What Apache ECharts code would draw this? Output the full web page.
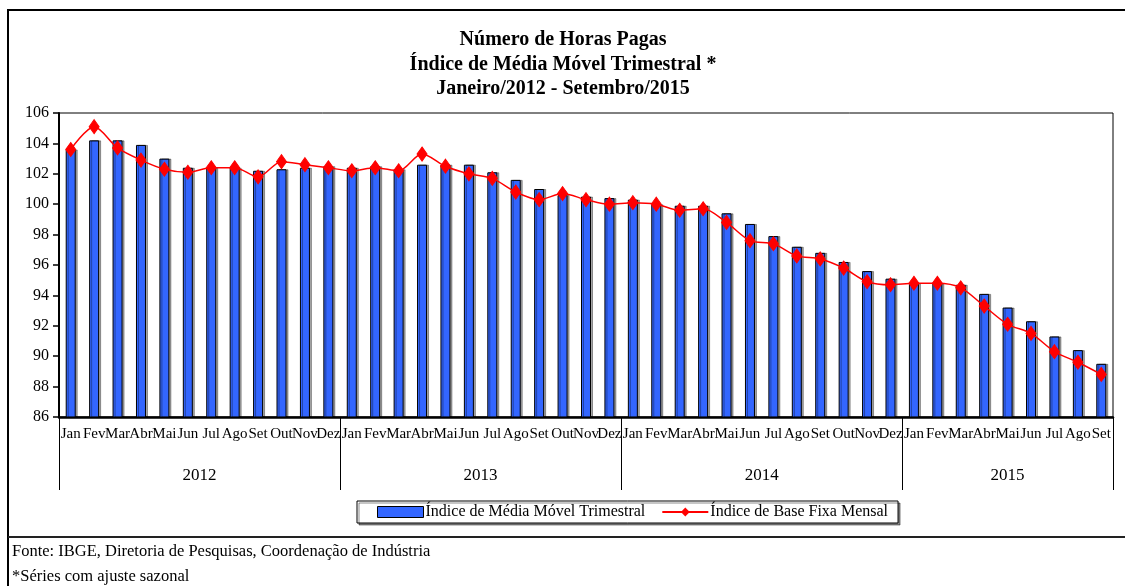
<!DOCTYPE html>
<html>
<head>
<meta charset="utf-8">
<script src="https://cdn.jsdelivr.net/npm/echarts@6/dist/echarts.min.js"></script>
<style>
    html, body { margin: 0; padding: 0; background: #fff; }
    #chart { width: 1125px; height: 586px; }
</style>
</head>
<body>
<div id="chart"></div>
<script>
// meses jan/2012 - set/2015
const monthNames = ['Jan', 'Fev', 'Mar', 'Abr', 'Mai', 'Jun', 'Jul', 'Ago', 'Set', 'Out', 'Nov', 'Dez'];
const years = ['2012', '2013', '2014', '2015'];
const monthsPerYear = [12, 12, 12, 9];

// Índice de Média Móvel Trimestral (barras)
const mediaMovel = [
    103.6, 104.2, 104.2, 103.9, 103.0, 102.4, 102.4, 102.4, 102.2, 102.3, 102.4, 102.5,
    102.4, 102.5, 102.3, 102.6, 102.6, 102.6, 102.1, 101.6, 101.0, 100.6, 100.5, 100.4,
    100.3, 100.0, 99.9, 99.9, 99.4, 98.7, 97.9, 97.2, 96.8, 96.2, 95.6, 95.1,
    94.8, 94.8, 94.7, 94.1, 93.2, 92.3, 91.3, 90.4, 89.5
];
// Índice de Base Fixa Mensal (linha)
const baseFixa = [
    103.6, 105.1, 103.7, 102.9, 102.3, 102.1, 102.4, 102.4, 101.8, 102.8, 102.6, 102.4,
    102.2, 102.4, 102.2, 103.3, 102.5, 102.0, 101.7, 100.8, 100.3, 100.7, 100.3, 100.0,
    100.1, 100.0, 99.6, 99.7, 98.8, 97.6, 97.4, 96.6, 96.4, 95.8, 94.9, 94.7,
    94.8, 94.8, 94.5, 93.3, 92.1, 91.5, 90.3, 89.6, 88.8
];

const yMin = 86, yMax = 106, yStep = 2;

const titleText = 'Número de Horas Pagas\nÍndice de Média Móvel Trimestral *\nJaneiro/2012 - Setembro/2015';
const fonte = 'Fonte: IBGE, Diretoria de Pesquisas, Coordenação de Indústria';
const nota = '*Séries com ajuste sazonal';

const FONT = '"Liberation Serif", "DejaVu Serif", serif';

// eixo dos meses
const months = [];
monthsPerYear.forEach(n => {
    for (let m = 0; m < n; m++) months.push(monthNames[m]);
});

// eixo dos anos: pontos a cada meio mês, rótulo no centro de cada ano
const halfSlots = new Array(months.length * 2 + 1).fill('');
const yearBounds = new Set([0]);
let start = 0;
monthsPerYear.forEach((n, i) => {
    halfSlots[start * 2 + n] = years[i];
    start += n;
    yearBounds.add(start * 2);
});

const chart = echarts.init(document.getElementById('chart'));

const option = {
    animation: false,
    backgroundColor: '#fff',
    textStyle: { fontFamily: FONT, color: '#000' },
    grid: {
        left: 59, right: 12, top: 113, bottom: 169,
        show: true, borderColor: '#000', borderWidth: 1,
        containLabel: false
    },
    legend: {
        left: 357, top: 501,
        padding: [3, 10, 3, 20],
        itemGap: 16,
        itemWidth: 46,
        itemHeight: 11,
        borderColor: '#000',
        borderWidth: 1,
        backgroundColor: '#fff',
        shadowColor: 'rgba(0,0,0,0.45)',
        shadowOffsetX: 2,
        shadowOffsetY: 2,
        textStyle: { fontFamily: FONT, fontSize: 16, color: '#000', padding: [0, 0, 0, -3] },
        data: [
            {
                name: 'Índice de Média Móvel Trimestral',
                icon: 'rect',
                itemStyle: { color: '#3366FF', borderColor: '#000', borderWidth: 1, shadowColor: 'transparent' }
            },
            { name: 'Índice de Base Fixa Mensal' }
        ]
    },
    xAxis: [
        {
            type: 'category',
            data: months,
            boundaryGap: true,
            axisLine: { onZero: false, lineStyle: { color: '#000', width: 2.5 } },
            axisTick: { interval: 0, length: 38, lineStyle: { color: '#000', width: 1 } },
            axisLabel: { interval: 0, margin: 10, fontFamily: FONT, fontSize: 15, color: '#000' },
            splitLine: { show: false }
        },
        {
            type: 'category',
            data: halfSlots,
            boundaryGap: false,
            position: 'bottom',
            axisLine: { show: false, onZero: false },
            axisTick: {
                interval: (i) => yearBounds.has(i),
                length: 73,
                lineStyle: { color: '#000', width: 1 }
            },
            axisLabel: {
                interval: (i, v) => v !== '',
                margin: 50,
                fontFamily: FONT, fontSize: 17, color: '#000'
            },
            splitLine: { show: false }
        }
    ],
    yAxis: {
        type: 'value',
        min: yMin, max: yMax, interval: yStep,
        axisLine: { show: true, lineStyle: { color: '#000', width: 2 } },
        axisTick: { show: true, length: 6, lineStyle: { color: '#000', width: 1.5 } },
        axisLabel: { margin: 10, fontFamily: FONT, fontSize: 16, color: '#000' },
        splitLine: { show: false }
    },
    series: [
        {
            name: 'Índice de Média Móvel Trimestral',
            type: 'bar',
            xAxisIndex: 0,
            barWidth: 10,
            data: mediaMovel,
            itemStyle: {
                color: '#3366FF',
                borderColor: '#000',
                borderWidth: 1,
                shadowColor: 'rgba(0,0,0,0.35)',
                shadowOffsetX: 2,
                shadowOffsetY: 0
            }
        },
        {
            name: 'Índice de Base Fixa Mensal',
            type: 'line',
            xAxisIndex: 0,
            data: baseFixa,
            smooth: 0.3,
            symbol: 'diamond',
            symbolSize: [10, 14],
            lineStyle: { color: '#FF0000', width: 1.5 },
            itemStyle: { color: '#FF0000', borderColor: '#FF0000' },
            z: 5
        }
    ],
    graphic: [
        {
            type: 'rect',
            shape: { x: 8, y: 10, width: 1140, height: 620 },
            style: { fill: null, stroke: '#000', lineWidth: 2 },
            silent: true
        },
        {
            type: 'line',
            shape: { x1: 8, y1: 537, x2: 1125, y2: 537 },
            style: { stroke: '#222', lineWidth: 2 },
            silent: true
        },
        {
            type: 'text',
            x: 563, y: 28,
            style: {
                text: titleText,
                fill: '#000',
                font: 'bold 20px ' + FONT,
                textAlign: 'center',
                textVerticalAlign: 'top',
                lineHeight: 24.5
            }
        },
        {
            type: 'text',
            x: 12, y: 552,
            style: { text: fonte, fill: '#000', font: '16.5px ' + FONT, textVerticalAlign: 'middle' }
        },
        {
            type: 'text',
            x: 12, y: 577,
            style: { text: nota, fill: '#000', font: '16.5px ' + FONT, textVerticalAlign: 'middle' }
        }
    ]
};

chart.setOption(option);
</script>
</body>
</html>
